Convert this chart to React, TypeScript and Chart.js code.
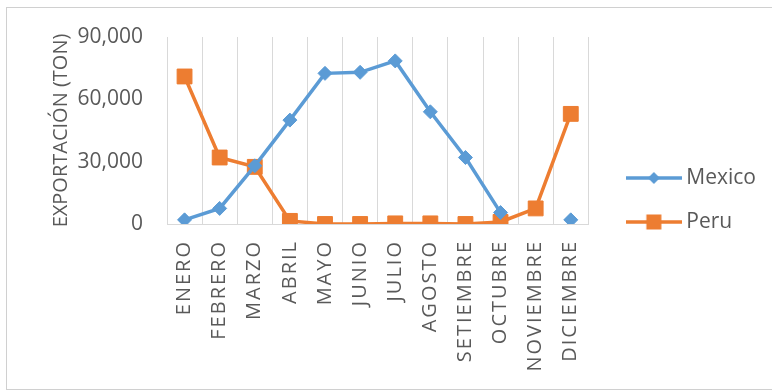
import React, { useEffect, useRef } from 'react';
import { Chart, registerables, CategoryScale } from 'chart.js';

Chart.register(...registerables);

class SpacedCategoryScale extends CategoryScale {
  static id = 'spacedCategory';
  static defaults = CategoryScale.defaults;
  drawLabels(chartArea: any) {
    const ctx: any = (this as any).ctx;
    ctx.save();
    ctx.letterSpacing = '2px';
    super.drawLabels(chartArea);
    ctx.restore();
  }
}
Chart.register(SpacedCategoryScale as any);

const months = ['ENERO', 'FEBRERO', 'MARZO', 'ABRIL', 'MAYO', 'JUNIO', 'JULIO', 'AGOSTO', 'SETIEMBRE', 'OCTUBRE', 'NOVIEMBRE', 'DICIEMBRE'];
const mexico = [2000, 7500, 28000, 50000, 72500, 73000, 78500, 54000, 32000, 5500, null, 2000];
const peru = [71000, 32000, 27500, 1500, 0, 0, 300, 300, 0, 1000, 7500, 53000];
const yTickValues = [0, 30000, 60000, 90000];

const BLUE = '#5B9BD5';
const ORANGE = '#ED7D31';
const TEXT = '#595959';
const GRID = '#D9D9D9';
const FONT = "'Open Sans', sans-serif";

function makeIcon(color: string, kind: 'diamond' | 'square') {
  const c = document.createElement('canvas');
  c.width = 56;
  c.height = 18;
  const g = c.getContext('2d')!;
  g.strokeStyle = color;
  g.lineWidth = 3.5;
  g.beginPath();
  g.moveTo(0, 9);
  g.lineTo(56, 9);
  g.stroke();
  g.fillStyle = color;
  if (kind === 'square') {
    g.fillRect(28 - 7.5, 9 - 7.5, 15, 15);
  } else {
    g.beginPath();
    g.moveTo(28, 9 - 6);
    g.lineTo(28 + 6, 9);
    g.lineTo(28, 9 + 6);
    g.lineTo(28 - 6, 9);
    g.closePath();
    g.fill();
  }
  return c;
}

// places the legend box as in the Excel layout: a gap after the plot area, centred around y=200
const legendPlace = {
  id: 'legendPlace',
  afterLayout(chart: any) {
    const lg = chart.legend;
    if (!lg) return;
    const w = lg.width;
    lg.left = chart.chartArea.right + 20.5;
    lg.right = lg.left + w;
    lg.top = 37;
    lg.bottom = 363;
    lg.height = lg.bottom - lg.top;
  },
};

export default function App() {
  const ref = useRef<HTMLCanvasElement>(null);

  useEffect(() => {
    if (!ref.current) return;
    const icons = [makeIcon(BLUE, 'diamond'), makeIcon(ORANGE, 'square')];
    const chart = new Chart(ref.current, {
      type: 'line',
      data: {
        labels: months,
        datasets: [
          {
            label: 'Mexico',
            data: mexico as any,
            borderColor: BLUE,
            backgroundColor: BLUE,
            borderWidth: 3.5,
            pointStyle: 'rectRot',
            pointRadius: 7,
            pointBorderWidth: 1,
            pointBackgroundColor: BLUE,
            pointBorderColor: BLUE,
            tension: 0,
            spanGaps: false,
          },
          {
            label: 'Peru',
            data: peru,
            borderColor: ORANGE,
            backgroundColor: ORANGE,
            borderWidth: 3.5,
            pointStyle: 'rect',
            pointRadius: 10.5,
            pointBorderWidth: 1,
            pointBackgroundColor: ORANGE,
            pointBorderColor: ORANGE,
            tension: 0,
          },
        ],
      },
      plugins: [legendPlace],
      options: {
        responsive: false,
        animation: false,
        devicePixelRatio: 1,
        layout: { padding: { left: 49, top: 37, right: 26.5, bottom: 0 } },
        plugins: {
          tooltip: { enabled: false },
          legend: {
            position: 'right',
            align: 'center',
            labels: {
              usePointStyle: true,
              boxWidth: 44,
              pointStyleWidth: 44,
              padding: 23,
              color: TEXT,
              font: { family: FONT, size: 21 },
              generateLabels: (ch: any) =>
                (Chart.defaults.plugins.legend.labels.generateLabels as any)(ch).map((it: any, i: number) => ({
                  ...it,
                  pointStyle: icons[i],
                })),
            },
          },
        },
        scales: {
          x: {
            type: 'spacedCategory' as any,
            offset: true,
            grid: { display: true, offset: true, color: GRID, lineWidth: 1, drawTicks: false },
            border: { display: true, color: GRID, width: 1 },
            ticks: {
              autoSkip: false,
              maxRotation: 90,
              minRotation: 90,
              padding: 16,
              color: TEXT,
              font: { family: FONT, size: 20 },
            },
            afterFit: (s: any) => {
              s.height = 168;
            },
          } as any,
          y: {
            type: 'linear',
            min: 0,
            max: 90000,
            afterBuildTicks: (s: any) => {
              s.ticks = yTickValues.map((v) => ({ value: v }));
            },
            grid: { display: false, drawTicks: false },
            border: { display: false },
            ticks: {
              padding: 24,
              color: TEXT,
              font: { family: FONT, size: 21 },
              callback: (v: any) => Number(v).toLocaleString('en-US'),
            },
            title: {
              display: true,
              text: 'EXPORTACIÓN (TON)',
              color: TEXT,
              font: { family: FONT, size: 20 },
              padding: { top: 0, bottom: 0 },
            },
            afterFit: (s: any) => {
              s.width = 118;
            },
          },
        },
      } as any,
    });
    return () => chart.destroy();
  }, []);

  return (
    <div style={{ position: 'absolute', left: 0, top: 0, width: 772, height: 392, overflow: 'hidden', background: '#fff' }}>
      <div
        style={{
          position: 'absolute',
          left: 6,
          top: 7,
          width: 800,
          height: 381,
          border: '1px solid #D0D0D0',
        }}
      />
      <canvas ref={ref} width={772} height={392} style={{ position: 'absolute', left: 0, top: 0, display: 'block' }} />
    </div>
  );
}
